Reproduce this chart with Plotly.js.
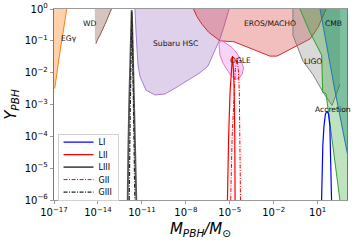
<!DOCTYPE html>
<html>
<head>
<meta charset="utf-8">
<script src="https://cdn.plot.ly/plotly-3.0.1.min.js"></script>
<style>html,body{margin:0;padding:0;background:#fff;}#chart{width:357px;height:250px;}</style>
</head>
<body>
<div id="chart"></div>
<script>
// ---- data (log10 values) ----
// Constraint regions: outlines as log10(M/Msun), log10(Y)
const egLogM = [-16.95, -16.66, -16.13, -16.05, -17.5, -17.5];
const egLogY = [-2.5, -1.55, 0, 0.25, 0.25, -2.5];

const wdLogM = [-14.21, -14.21, -14.14, -14.04, -13.86, -13.66, -13.52, -13.38, -13.25, -13.08, -13.0];
const wdLogY = [0.3, -0.95, -1.09, -0.97, -0.82, -0.64, -0.48, -0.33, -0.18, 0, 0.3];

const subaruLogM = [-11.47, -11.47, -11.40, -11.33, -11.27, -11.13, -10.72, -10.11, -9.42, -8.60, -7.72, -7.03, -6.49, -6.15, -5.67, -5.40, -5.05, -4.95];
const subaruLogY = [0.3, 0, -0.72, -1.33, -1.75, -2.12, -2.55, -2.70, -2.67, -2.45, -2.21, -2.00, -1.79, -1.45, -0.94, -0.55, 0, 0.3];

const erosLogM = [-7.6, -7.48, -7.24, -6.90, -6.44, -5.67, -4.71, -4.03, -3.14, -2.26, -1.78, -1.03, -0.34, 0.48, 1.02, 1.36, 1.57, 1.65];
const erosLogY = [0.3, 0, -0.24, -0.48, -0.73, -1.0, -1.03, -1.15, -1.33, -1.48, -1.48, -1.30, -1.15, -0.94, -0.58, -0.24, 0, 0.3];

const ogleLogM = [-5.60, -5.74, -5.67, -5.46, -5.19, -4.92, -4.64, -4.37, -4.17, -4.06, -4.24, -4.51, -4.85, -5.19, -5.60];
const ogleLogY = [-0.97, -1.09, -1.45, -1.70, -1.91, -2.09, -2.21, -2.18, -2.06, -1.85, -1.61, -1.39, -1.21, -1.09, -0.97];

const ligoLogM = [-0.69, -0.69, 0.0, 0.68, 1.36, 1.98, 2.52, 2.52];
const ligoLogY = [0.3, -0.83, -1.64, -2.06, -2.61, -3.03, -2.36, 0.3];

const accLogM = [-0.49, -0.21, 0.47, 1.27, 1.34, 1.57, 2.56, 2.60, 3.5, 3.5];
const accLogY = [0.3, 0, -0.73, -1.45, -2.61, -2.66, -6.0, -6.3, -6.3, 0.3];

const cmbLogM = [1.04, 1.16, 1.47, 1.84, 2.17, 3.0, 3.21, 3.5, 3.5];
const cmbLogY = [0.3, 0, -0.73, -1.76, -2.55, -4.48, -5.0, -5.0, 0.3];

// Mass-function curves
const liLogM = [1.24, 1.26, 1.29, 1.35, 1.43, 1.53, 1.63, 1.74, 1.83, 1.89, 1.95, 1.97];
const liLogY = [-6.5, -6.0, -5.18, -4.27, -3.67, -3.30, -3.21, -3.30, -3.67, -4.58, -6.0, -6.5];

const liiLogM = [-5.18, -5.17, -5.08, -4.98, -4.90, -4.82, -4.75, -4.70, -4.66, -4.64, -4.635];
const liiLogY = [-6.5, -6.0, -4.0, -2.6, -1.9, -1.48, -1.9, -2.6, -4.0, -6.0, -6.5];

const liiiLogM = [-11.985, -11.98, -11.93, -11.87, -11.80, -11.74, -11.70, -11.66, -11.60, -11.52, -11.45, -11.38, -11.375];
const liiiLogY = [-6.5, -6.0, -4.5, -3.0, -1.5, -0.5, -0.03, -0.5, -1.5, -3.0, -4.5, -6.0, -6.5];

const giiLogM = [-4.95, -4.94, -4.84, -4.72, -4.62, -4.51, -4.42, -4.35, -4.30, -4.27, -4.265];
const giiLogY = [-6.5, -6.0, -4.0, -2.6, -1.9, -1.55, -1.9, -2.6, -4.0, -6.0, -6.5];

const giiiLogM = [-11.875, -11.87, -11.83, -11.79, -11.75, -11.72, -11.69, -11.66, -11.62, -11.57, -11.52, -11.47, -11.465];
const giiiLogY = [-6.5, -6.0, -4.5, -3.0, -1.5, -0.5, -0.09, -0.5, -1.5, -3.0, -4.5, -6.0, -6.5];

// Tick labels
const xTickExp = [-17, -14, -11, -8, -5, -2, 1];
const yTickExp = [0, -1, -2, -3, -4, -5, -6];

// Region labels
const regionNames = ['EGγ', 'WD', 'Subaru HSC', 'EROS/MACHO', 'CMB', 'OGLE', 'LIGO', 'Accretion'];
const regionLabelLogM = [-15.98, -14.54, -8.74, -2.26, 2.08, -4.28, 0.68, 2.01];
const regionLabelLogY = [-0.94, -0.45, -1.09, -0.45, -0.45, -1.61, -1.64, -3.15];

// ---- build ----
const p = a => a.map(v => Math.pow(10, v));
const sup = e => '10<sup>' + (e < 0 ? '\u2212' + (-e) : e) + '</sup>';

function fillTrace(lm, ly, fill, line, lw) {
  return {x: p(lm), y: p(ly), mode: 'lines', fill: 'toself', fillcolor: fill,
    line: {color: line || 'rgba(0,0,0,0)', width: lw === undefined ? 1 : lw},
    hoverinfo: 'skip', showlegend: false};
}
function lineTrace(lm, ly, color, w) {
  return {x: p(lm), y: p(ly), mode: 'lines', line: {color: color, width: w || 1},
    hoverinfo: 'skip', showlegend: false};
}

const traces = [
  fillTrace(egLogM, egLogY, 'rgba(255,127,14,0.35)', null, 0),
  lineTrace(egLogM.slice(0, 4), egLogY.slice(0, 4), '#ff7f0e', 1),
  fillTrace(wdLogM, wdLogY, 'rgba(140,86,75,0.35)', null, 0),
  lineTrace(wdLogM.slice(2), wdLogY.slice(2), '#8c564b', 1),
  fillTrace(subaruLogM, subaruLogY, 'rgba(148,103,189,0.3)', '#a77fd0', 1),
  fillTrace(erosLogM, erosLogY, 'rgba(214,39,40,0.3)', '#d62728', 1),
  fillTrace(ogleLogM, ogleLogY, 'rgba(238,130,238,0.35)', '#e377c2', 1),
  fillTrace(ligoLogM, ligoLogY, 'rgba(128,128,128,0.3)', null, 0),
  lineTrace(ligoLogM.slice(0, 7), ligoLogY.slice(0, 7), '#808080', 1),
  fillTrace(accLogM, accLogY, 'rgba(44,160,44,0.3)', '#2ca02c', 1),
  fillTrace(cmbLogM, cmbLogY, 'rgba(0,128,100,0.35)', '#1f77b4', 1),
  {x: p(liLogM), y: p(liLogY), mode: 'lines', name: 'LI', line: {color: '#0000ff', width: 1.2}, hoverinfo: 'skip'},
  {x: p(liiLogM), y: p(liiLogY), mode: 'lines', name: 'LII', line: {color: '#ff0000', width: 1.2}, hoverinfo: 'skip'},
  {x: p(liiiLogM), y: p(liiiLogY), mode: 'lines', name: 'LIII', line: {color: '#555555', width: 1.8}, hoverinfo: 'skip'},
  {x: p(giiLogM), y: p(giiLogY), mode: 'lines', name: 'GII', line: {color: '#ff0000', width: 1, dash: '4px,1.5px,1px,1.5px'}, hoverinfo: 'skip'},
  {x: p(giiiLogM), y: p(giiiLogY), mode: 'lines', name: 'GIII', line: {color: '#222222', width: 1.2, dash: '4px,1.5px,1px,1.5px'}, hoverinfo: 'skip'}
];

const annotations = regionNames.map((t, i) => ({
  x: regionLabelLogM[i], y: regionLabelLogY[i], xref: 'x', yref: 'y', text: t,
  showarrow: false, font: {family: 'DejaVu Sans', size: 7.6, color: '#111'}
}));

const layout = {
  width: 357, height: 250,
  margin: {l: 54, r: 10, t: 9, b: 43},
  paper_bgcolor: '#fff', plot_bgcolor: '#fff',
  font: {family: 'DejaVu Sans', size: 10, color: '#000'},
  showlegend: true,
  legend: {x: 0.012, y: 0.345, xanchor: 'left', yanchor: 'top', bgcolor: 'rgba(255,255,255,0.9)',
    bordercolor: '#d0d0d0', borderwidth: 1, itemwidth: 30, font: {family: 'DejaVu Sans', size: 8}},
  xaxis: {type: 'log', range: [-17, 3], showgrid: false, zeroline: false,
    tickvals: p(xTickExp), ticktext: xTickExp.map(sup), ticks: 'outside', ticklen: 3, tickcolor: '#999',
    showline: true, mirror: true, linecolor: '#999', linewidth: 1.2,
    tickfont: {family: 'DejaVu Sans', size: 10},
    title: {text: '<i>M</i><sub><i>PBH</i></sub><i>/M</i><sub>\u2299</sub>', font: {family: 'DejaVu Sans', size: 15}, standoff: 6}},
  yaxis: {type: 'log', range: [-6, 0], showgrid: false, zeroline: false,
    tickvals: p(yTickExp), ticktext: yTickExp.map(sup), ticks: 'outside', ticklen: 3, tickcolor: '#999',
    showline: true, mirror: true, linecolor: '#777', linewidth: 1.2,
    tickfont: {family: 'DejaVu Sans', size: 10},
    title: {text: '<i>Y</i><sub><i>PBH</i></sub>', font: {family: 'DejaVu Sans', size: 15}, standoff: 4}},
  annotations: annotations
};

Plotly.newPlot('chart', traces, layout, {staticPlot: true, displayModeBar: false}).then(gd => {
  // compact the legend rows to the reference spacing
  const rowH = 12.5;
  const items = gd.querySelectorAll('.legend .traces');
  items.forEach((el, i) => {
    const m = /translate\(\s*([-\d.]+)/.exec(el.getAttribute('transform') || '');
    const tx = m ? m[1] : 0;
    el.setAttribute('transform', 'translate(' + tx + ',' + (8 + i * rowH) + ')');
  });
  const bg = gd.querySelector('.legend rect.bg');
  if (bg) bg.setAttribute('height', items.length * rowH + 3);
});
</script>
</body>
</html>
